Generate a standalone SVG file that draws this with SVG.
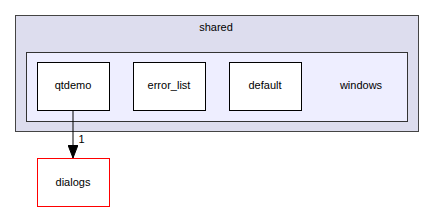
<svg xmlns="http://www.w3.org/2000/svg" width="435" height="212" viewBox="0 0 435 212">
<style>
text{font-family:"Liberation Sans",Arial,sans-serif;font-size:11px;fill:#000;text-anchor:middle}
.node{fill:#fff;stroke:#000;stroke-width:1}
</style>
<defs>
<marker id="ah" markerWidth="14" markerHeight="10" refX="13" refY="5" orient="auto" markerUnits="userSpaceOnUse" viewBox="0 0 14 10">
<path d="M0,0 L13,5 L0,10 Z" fill="#000" stroke="#000"/>
</marker>
</defs>
<g id="cluster_shared">
<rect x="15.5" y="15.5" width="403" height="116" fill="#ddddee" stroke="#444"/>
<text x="216" y="31">shared</text>
</g>
<g id="cluster_windows">
<rect x="26.5" y="52.5" width="381" height="69" fill="#eeeeff" stroke="#333"/>
<text x="361" y="89">windows</text>
</g>
<g id="qtdemo">
<rect class="node" x="37.5" y="62.5" width="72" height="48"/>
<text x="73" y="89">qtdemo</text>
</g>
<g id="error_list">
<rect class="node" x="133.5" y="62.5" width="72" height="48"/>
<text x="169" y="89">error_list</text>
</g>
<g id="default">
<rect class="node" x="229.5" y="62.5" width="72" height="48"/>
<text x="265" y="89">default</text>
</g>
<g id="dialogs">
<rect x="37.5" y="158.5" width="72" height="48" fill="#fff" stroke="#ff0000"/>
<text x="73" y="185.5">dialogs</text>
</g>
<g id="connectors">
<path d="M73,110.5 L73,158" fill="none" stroke="#000" marker-end="url(#ah)"/>
<text x="81.5" y="143">1</text>
</g>
</svg>
